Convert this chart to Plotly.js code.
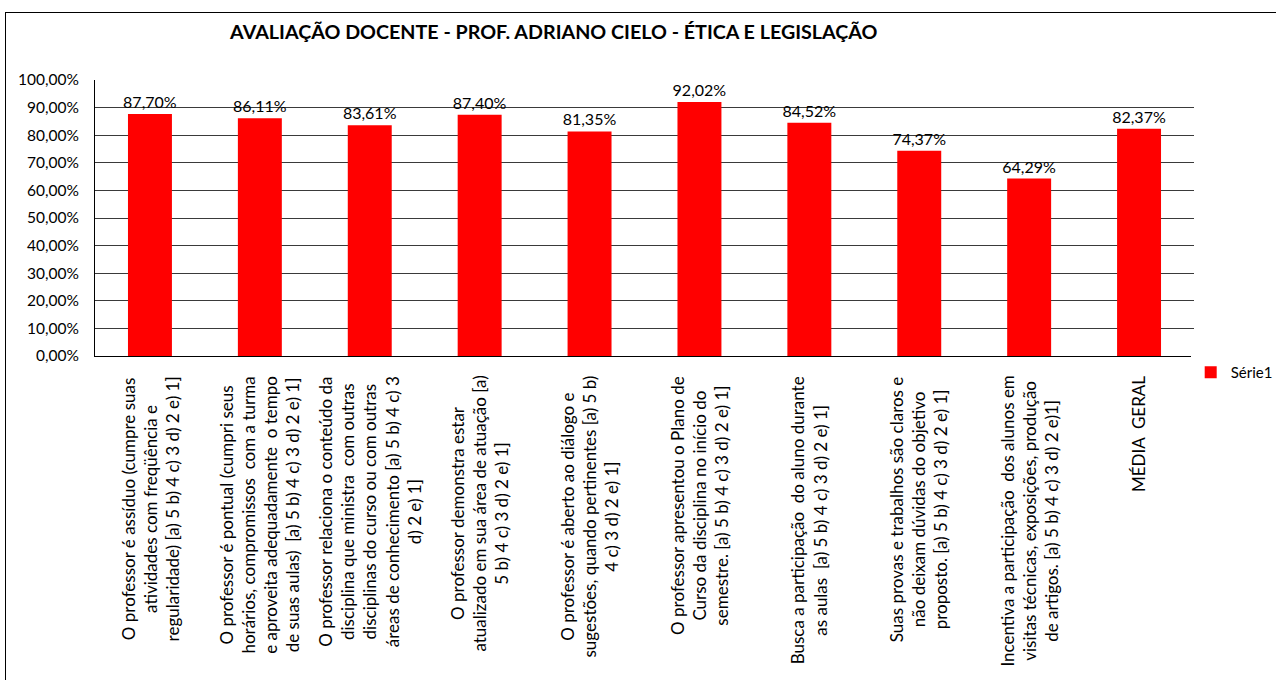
<!DOCTYPE html>
<html>
<head>
<meta charset="utf-8">
<script src="https://cdn.plot.ly/plotly-3.0.1.min.js"></script>
<style>
  body { margin: 0; background: #fff; overflow: hidden; }
  #chart { position: absolute; left: 5px; top: 12px; width: 1320px; height: 668px; border: 1px solid #000; }
</style>
</head>
<body>
<div id="chart"></div>
<script>
// perguntas (eixo x)
const perguntas = [
  'O professor é assíduo (cumpre suas<br>atividades com freqüência e<br>regularidade) [a) 5 b) 4 c) 3 d) 2 e) 1]',
  'O professor é pontual (cumpri seus<br>horários, compromissos  com a turma<br>e aproveita adequadamente  o tempo<br>de suas aulas)  [a) 5 b) 4 c) 3 d) 2 e) 1]',
  'O professor relaciona o conteúdo da<br>disciplina que ministra  com outras<br>disciplinas do curso ou com outras<br>áreas de conhecimento [a) 5 b) 4 c) 3<br>d) 2 e) 1]',
  'O professor demonstra estar<br>atualizado em sua área de atuação [a)<br>5 b) 4 c) 3 d) 2 e) 1]',
  'O professor é aberto ao diálogo e<br>sugestões, quando pertinentes [a) 5 b)<br>4 c) 3 d) 2 e) 1]',
  'O professor apresentou o Plano de<br>Curso da disciplina no início do<br>semestre. [a) 5 b) 4 c) 3 d) 2 e) 1]',
  'Busca a participação  do aluno durante<br>as aulas  [a) 5 b) 4 c) 3 d) 2 e) 1]',
  'Suas provas e trabalhos são claros e<br>não deixam dúvidas do objetivo<br>proposto. [a) 5 b) 4 c) 3 d) 2 e) 1]',
  'Incentiva a participação  dos alunos em<br>visitas técnicas, exposições, produção<br>de artigos. [a) 5 b) 4 c) 3 d) 2 e)1]',
  'MÉDIA  GERAL'
];
const notas = [0.8770, 0.8611, 0.8361, 0.8740, 0.8135, 0.9202, 0.8452, 0.7437, 0.6429, 0.8237];
const categorias = perguntas.map((p, i) => 'q' + i);

const fonte = 'Lato, "DejaVu Sans", sans-serif';

const trace = {
  x: categorias,
  y: notas,
  type: 'bar',
  name: 'Série1',
  marker: {color: '#ff0000'},
  texttemplate: '%{y:.2%}',
  textposition: 'outside',
  constraintext: 'none',
  cliponaxis: false,
  textfont: {family: fonte, size: 16, color: '#000'},
  hoverinfo: 'none'
};

// rótulos das perguntas, girados e centralizados sob cada barra
const rotulos = categorias.map((c, i) => ({
  x: c,
  xref: 'x',
  y: -0.065,
  yref: 'paper',
  text: perguntas[i],
  textangle: -90,
  xanchor: 'center',
  yanchor: 'top',
  showarrow: false,
  align: 'center',
  font: {family: fonte, size: 17, color: '#000'}
}));

const layout = {
  title: {
    text: '<b>AVALIAÇÃO DOCENTE - PROF. ADRIANO CIELO - ÉTICA E LEGISLAÇÃO</b>',
    font: {family: fonte, size: 19.7, color: '#000'},
    xref: 'container', x: 0.415, xanchor: 'center',
    yref: 'container', y: 0.972, yanchor: 'middle'
  },
  separators: ',.',
  bargap: 0.6,
  showlegend: true,
  legend: {
    x: 0.997, xanchor: 'left', y: -0.06, yanchor: 'middle',
    itemwidth: 30,
    font: {family: fonte, size: 15, color: '#000'}
  },
  xaxis: {
    showticklabels: false,
    showline: true, linecolor: '#000', linewidth: 1,
    ticks: '', fixedrange: true
  },
  yaxis: {
    range: [0, 1],
    dtick: 0.1,
    tickformat: '.2%',
    showgrid: true, gridcolor: '#3a3a3a', gridwidth: 1,
    showline: true, linecolor: '#000', linewidth: 1,
    ticks: '', ticklabelstandoff: 12,
    tickfont: {family: fonte, size: 15.5, color: '#000'},
    zeroline: false, fixedrange: true
  },
  annotations: rotulos,
  margin: {t: 67, b: 325, l: 89, r: 132},
  paper_bgcolor: '#fff',
  plot_bgcolor: '#fff'
};

Plotly.newPlot('chart', [trace], layout, {displayModeBar: false, staticPlot: true});
</script>
</body>
</html>
